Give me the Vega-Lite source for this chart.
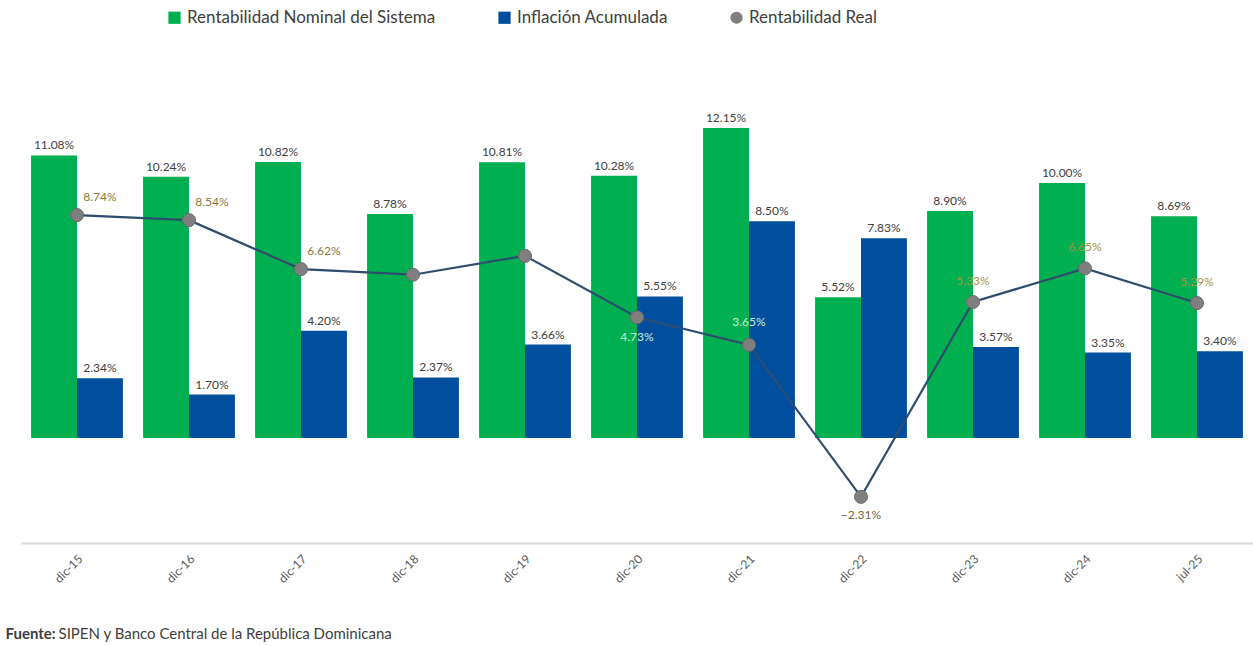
{
  "$schema": "https://vega.github.io/schema/vega-lite/v6.json",
  "autosize": "none",
  "width": 1232,
  "height": 483,
  "padding": {"left": 21, "top": 60, "right": 0, "bottom": 103},
  "background": "white",
  "config": {
    "view": {"stroke": null},
    "font": "Lato",
    "text": {"font": "Lato"}
  },
  "data": {
    "values": [
      {"periodo": "dic-15", "Rentabilidad Nominal del Sistema": 0.1108, "Inflación Acumulada": 0.0234, "Rentabilidad Real": 0.0874},
      {"periodo": "dic-16", "Rentabilidad Nominal del Sistema": 0.1024, "Inflación Acumulada": 0.0170, "Rentabilidad Real": 0.0854},
      {"periodo": "dic-17", "Rentabilidad Nominal del Sistema": 0.1082, "Inflación Acumulada": 0.0420, "Rentabilidad Real": 0.0662},
      {"periodo": "dic-18", "Rentabilidad Nominal del Sistema": 0.0878, "Inflación Acumulada": 0.0237, "Rentabilidad Real": 0.0640},
      {"periodo": "dic-19", "Rentabilidad Nominal del Sistema": 0.1081, "Inflación Acumulada": 0.0366, "Rentabilidad Real": 0.0714},
      {"periodo": "dic-20", "Rentabilidad Nominal del Sistema": 0.1028, "Inflación Acumulada": 0.0555, "Rentabilidad Real": 0.0473},
      {"periodo": "dic-21", "Rentabilidad Nominal del Sistema": 0.1215, "Inflación Acumulada": 0.0850, "Rentabilidad Real": 0.0365},
      {"periodo": "dic-22", "Rentabilidad Nominal del Sistema": 0.0552, "Inflación Acumulada": 0.0783, "Rentabilidad Real": -0.0231},
      {"periodo": "dic-23", "Rentabilidad Nominal del Sistema": 0.0890, "Inflación Acumulada": 0.0357, "Rentabilidad Real": 0.0533},
      {"periodo": "dic-24", "Rentabilidad Nominal del Sistema": 0.1000, "Inflación Acumulada": 0.0335, "Rentabilidad Real": 0.0665},
      {"periodo": "jul-25", "Rentabilidad Nominal del Sistema": 0.0869, "Inflación Acumulada": 0.0340, "Rentabilidad Real": 0.0529}
    ]
  },
  "transform": [
    {"fold": ["Rentabilidad Nominal del Sistema", "Inflación Acumulada", "Rentabilidad Real"], "as": ["serie", "valor"]}
  ],
  "encoding": {
    "x": {
      "field": "periodo",
      "type": "nominal",
      "sort": null,
      "scale": {"paddingInner": 0.18, "paddingOuter": 0.09},
      "axis": {
        "title": "SIPEN y Banco Central de la República  Dominicana",
        "titleFont": "Lato",
        "titleFontSize": 15,
        "titleFontWeight": "normal",
        "titleColor": "#404040",
        "titleAlign": "left",
        "titleAnchor": null,
        "titleBaseline": "alphabetic",
        "titleX": 37,
        "titleY": 95,
        "labelAngle": -45,
        "labelFontSize": 12,
        "labelColor": "#595959",
        "labelPadding": 10,
        "ticks": false,
        "domainColor": "#d9d9d9",
        "domainWidth": 2
      }
    },
    "y": {
      "field": "valor",
      "type": "quantitative",
      "scale": {"domain": [-0.0412, 0.1482], "nice": false, "zero": false},
      "axis": {
        "title": "Fuente:",
        "titleFont": "Lato",
        "titleFontSize": 15,
        "titleFontWeight": "bold",
        "titleColor": "#404040",
        "titleAngle": 0,
        "titleAlign": "left",
        "titleBaseline": "alphabetic",
        "titleX": -16,
        "titleY": 578,
        "labels": false,
        "ticks": false,
        "domain": false,
        "grid": false
      }
    }
  },
  "layer": [
    {
      "transform": [{"filter": "datum.serie !== 'Rentabilidad Real'"}],
      "mark": {"type": "bar"},
      "encoding": {
        "xOffset": {"field": "serie", "type": "nominal", "sort": ["Rentabilidad Nominal del Sistema", "Inflación Acumulada"], "scale": {"paddingInner": 0, "paddingOuter": 0}},
        "color": {
          "field": "serie",
          "type": "nominal",
          "scale": {
            "domain": ["Rentabilidad Nominal del Sistema", "Inflación Acumulada", "Rentabilidad Real"],
            "range": ["#00B050", "#004F9F", "#7F7F7F"]
          },
          "legend": {
            "title": null,
            "orient": "none",
            "direction": "horizontal",
            "legendX": 145,
            "legendY": -51,
            "labelFont": "Lato",
            "labelFontSize": 17,
            "labelColor": "#404040",
            "labelLimit": 0,
            "symbolSize": 150,
            "symbolStrokeWidth": 0,
            "columnPadding": 60,
            "labelOffset": 4,
            "encode": {
              "symbols": {
                "update": {
                  "shape": {"signal": "datum.value === 'Rentabilidad Real' ? 'circle' : 'square'"}
                }
              }
            }
          }
        }
      }
    },
    {
      "transform": [{"filter": "datum.serie !== 'Rentabilidad Real'"}],
      "mark": {"type": "text", "baseline": "alphabetic", "dy": -6, "fontSize": 12, "color": "#404040"},
      "encoding": {
        "xOffset": {"field": "serie", "type": "nominal", "sort": ["Rentabilidad Nominal del Sistema", "Inflación Acumulada"]},
        "text": {"field": "valor", "type": "quantitative", "format": ".2%"}
      }
    },
    {
      "transform": [{"filter": "datum.serie === 'Rentabilidad Real'"}],
      "mark": {"type": "line", "color": "#2E4D6E", "strokeWidth": 2.2},
      "encoding": {}
    },
    {
      "transform": [{"filter": "datum.serie === 'Rentabilidad Real'"}],
      "mark": {"type": "point", "shape": "circle", "filled": true, "size": 170, "opacity": 1, "stroke": "#6b6b6b", "strokeWidth": 1},
      "encoding": {
        "color": {"field": "serie", "type": "nominal"}
      }
    },
    {
      "transform": [{"filter": "datum.serie === 'Rentabilidad Real' && indexof(['dic-15','dic-16','dic-17'], datum.periodo) >= 0"}],
      "mark": {"type": "text", "baseline": "middle", "dx": 23, "dy": -18, "fontSize": 12, "color": "#8A7A3C"},
      "encoding": {"text": {"field": "valor", "type": "quantitative", "format": ".2%"}}
    },
    {
      "transform": [{"filter": "datum.serie === 'Rentabilidad Real' && indexof(['dic-23','dic-24','jul-25'], datum.periodo) >= 0"}],
      "mark": {"type": "text", "baseline": "middle", "dy": -21, "fontSize": 12, "color": "#A39347"},
      "encoding": {"text": {"field": "valor", "type": "quantitative", "format": ".2%"}}
    },
    {
      "transform": [{"filter": "datum.serie === 'Rentabilidad Real' && datum.periodo === 'dic-21'"}],
      "mark": {"type": "text", "baseline": "middle", "dy": -23, "fontSize": 12, "color": "#C6F0CF"},
      "encoding": {"text": {"field": "valor", "type": "quantitative", "format": ".2%"}}
    },
    {
      "transform": [{"filter": "datum.serie === 'Rentabilidad Real' && datum.periodo === 'dic-20'"}],
      "mark": {"type": "text", "baseline": "middle", "dy": 20, "fontSize": 12, "color": "#C6F0CF"},
      "encoding": {"text": {"field": "valor", "type": "quantitative", "format": ".2%"}}
    },
    {
      "transform": [{"filter": "datum.serie === 'Rentabilidad Real' && datum.periodo === 'dic-22'"}],
      "mark": {"type": "text", "baseline": "middle", "dy": 18, "fontSize": 12, "color": "#6E6440"},
      "encoding": {"text": {"field": "valor", "type": "quantitative", "format": ".2%"}}
    }
  ]
}
